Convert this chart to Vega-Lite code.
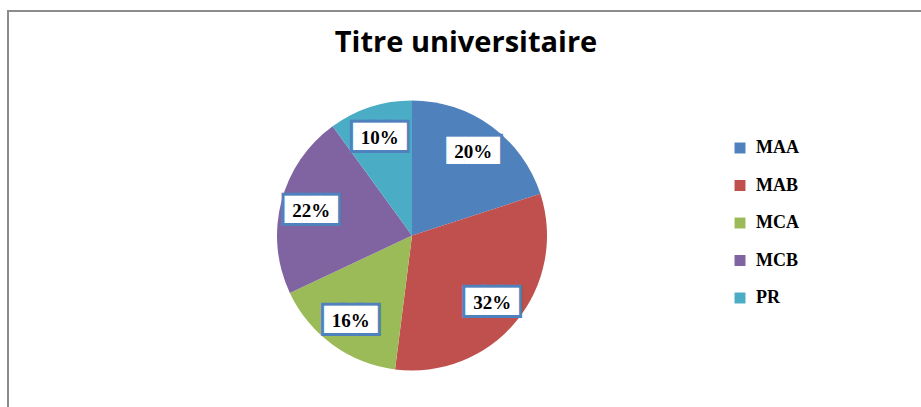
{
  "$schema": "https://vega.github.io/schema/vega-lite/v6.json",
  "autosize": {"type": "none"},
  "width": 916,
  "height": 399,
  "padding": {"left": 8, "top": 11, "right": -3, "bottom": -3},
  "background": "white",
  "view": {"stroke": "#8c8c8c", "strokeWidth": 2, "fill": "white"},
  "config": {
    "view": {"stroke": "#8c8c8c", "strokeWidth": 2},
    "legend": {"labelFont": "Liberation Serif", "labelFontWeight": "bold", "labelFontSize": 18, "labelColor": "black"}
  },
  "title": {
    "text": "Titre universitaire",
    "font": "Open Sans",
    "fontWeight": "bold",
    "fontSize": 29,
    "color": "black",
    "anchor": "middle",
    "baseline": "alphabetic",
    "offset": -70
  },
  "data": {
    "values": [
      {"titre": "MAA", "part": 0.20},
      {"titre": "MAB", "part": 0.32},
      {"titre": "MCA", "part": 0.16},
      {"titre": "MCB", "part": 0.22},
      {"titre": "PR", "part": 0.10}
    ]
  },
  "encoding": {
    "theta": {"field": "part", "type": "quantitative", "stack": true},
    "order": {"field": "titre", "type": "nominal"}
  },
  "layer": [
    {
      "mark": {"type": "arc", "outerRadius": 135, "xOffset": -54, "yOffset": 25},
      "encoding": {
        "color": {
          "field": "titre",
          "type": "nominal",
          "scale": {"domain": ["MAA", "MAB", "MCA", "MCB", "PR"], "range": ["#4F81BD", "#C0504D", "#9BBB59", "#8064A2", "#4BACC6"]},
          "legend": {
            "title": null,
            "orient": "none",
            "legendX": 723,
            "legendY": 128,
            "symbolType": "square",
            "symbolSize": 120,
            "symbolStrokeWidth": 0,
            "rowPadding": 19.5,
            "labelOffset": 7,
            "padding": 0
          }
        }
      }
    },
    {
      "mark": {"type": "text", "radius": 104, "xOffset": -54, "yOffset": 25, "text": "███", "font": "DejaVu Sans", "fontSize": 23, "fill": "#4F81BD", "stroke": "#4F81BD", "strokeWidth": 6, "align": "center", "baseline": "middle"}
    },
    {
      "mark": {"type": "text", "radius": 104, "xOffset": -54, "yOffset": 25, "text": "███", "font": "DejaVu Sans", "fontSize": 23, "fill": "white", "align": "center", "baseline": "middle"}
    },
    {
      "mark": {"type": "text", "radius": 104, "xOffset": -54, "yOffset": 26, "font": "Liberation Serif", "fontWeight": "bold", "fontSize": 19, "fill": "black", "align": "center", "baseline": "middle"},
      "encoding": {
        "text": {"field": "part", "type": "quantitative", "format": ".0%"}
      }
    }
  ]
}
